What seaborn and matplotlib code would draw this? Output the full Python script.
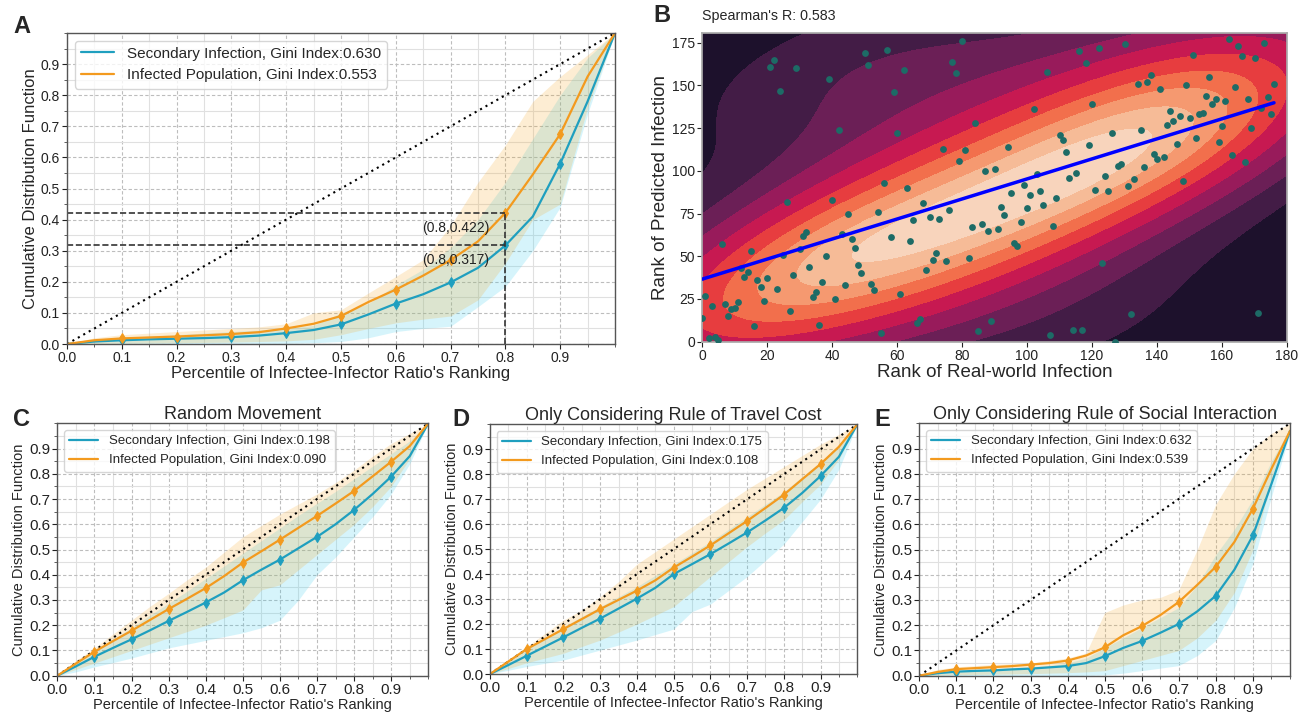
import numpy as np
import matplotlib
matplotlib.use("Agg")
import matplotlib.pyplot as plt
from matplotlib.lines import Line2D
from matplotlib.colors import ListedColormap
from matplotlib.ticker import MultipleLocator, FixedLocator
import seaborn as sns

sns.set_theme(style="white")
plt.rcParams['font.family'] = ['Liberation Sans', 'DejaVu Sans']

# ---------------------------------------------------------------- data
percentile = np.round(np.arange(0, 1.0001, 0.05), 2)

# Panel A: full model
sec_mean_A = [0, .008, .012, .015, .017, .019, .022, .027, .035, .045, .063, .095, .130, .160, .198, .245, .317, .410, .580, .780, 1.0]
sec_low_A = [0, 0, 0, 0, 0, 0, 0, .001, .002, .004, .008, .020, .040, .050, .057, .120, .185, .300, .440, .740, 1.0]
sec_up_A = [0, .015, .020, .025, .030, .035, .040, .045, .050, .060, .100, .130, .190, .240, .310, .400, .520, .660, .800, .920, 1.0]
pop_mean_A = [0, .012, .018, .021, .024, .028, .032, .038, .050, .065, .090, .135, .175, .220, .270, .330, .422, .545, .675, .860, 1.0]
pop_low_A = [0, 0, .002, .003, .004, .005, .006, .008, .010, .015, .030, .050, .068, .080, .090, .142, .260, .400, .450, .760, 1.0]
pop_up_A = [0, .020, .030, .035, .040, .045, .050, .055, .065, .100, .110, .164, .217, .271, .380, .520, .640, .780, .860, .930, 1.0]
gini_A = (0.630, 0.553)

# Panel C: random movement
sec_mean_C = [0, .037, .075, .110, .144, .180, .217, .253, .290, .330, .378, .420, .460, .505, .550, .600, .657, .720, .789, .870, 1.0]
sec_low_C = [0, .015, .035, .052, .070, .090, .110, .125, .140, .155, .170, .190, .220, .300, .400, .470, .550, .630, .720, .840, 1.0]
sec_up_C = [0, .055, .100, .145, .190, .240, .287, .335, .385, .435, .485, .535, .585, .635, .683, .730, .780, .830, .880, .930, 1.0]
pop_mean_C = [0, .048, .095, .137, .178, .221, .264, .305, .347, .395, .448, .493, .539, .586, .633, .682, .732, .790, .848, .910, 1.0]
pop_low_C = [0, .025, .050, .075, .100, .125, .150, .175, .200, .230, .260, .340, .360, .420, .480, .540, .600, .670, .750, .860, 1.0]
pop_up_C = [0, .060, .110, .165, .220, .275, .326, .380, .430, .490, .550, .595, .640, .680, .720, .765, .815, .870, .920, .960, 1.0]
gini_C = (0.198, 0.090)

# Panel D: travel cost rule only
sec_mean_D = [0, .036, .073, .110, .147, .185, .222, .262, .302, .345, .400, .440, .480, .523, .567, .615, .665, .725, .793, .870, 1.0]
sec_low_D = [0, .015, .030, .043, .056, .076, .096, .116, .136, .158, .180, .250, .280, .335, .390, .455, .520, .610, .700, .820, 1.0]
sec_up_D = [0, .050, .100, .145, .190, .230, .270, .310, .350, .395, .440, .485, .530, .580, .630, .680, .730, .790, .850, .920, 1.0]
pop_mean_D = [0, .050, .100, .140, .180, .220, .260, .297, .334, .375, .426, .470, .515, .564, .613, .665, .718, .780, .841, .910, 1.0]
pop_low_D = [0, .022, .045, .064, .083, .110, .136, .168, .200, .235, .270, .330, .390, .450, .510, .565, .617, .690, .760, .860, 1.0]
pop_up_D = [0, .058, .110, .163, .216, .256, .310, .370, .440, .490, .540, .590, .640, .690, .740, .785, .830, .875, .920, .960, 1.0]
gini_D = (0.175, 0.108)

# Panel E: social interaction rule only
sec_mean_E = [0, .010, .016, .019, .021, .025, .028, .033, .038, .050, .077, .110, .137, .170, .205, .255, .317, .420, .556, .760, .970]
sec_low_E = [0, 0, 0, 0, 0, 0, 0, 0, 0, .001, .003, .010, .020, .030, .040, .080, .140, .270, .445, .710, .960]
sec_up_E = [0, .015, .020, .025, .028, .032, .035, .040, .050, .070, .110, .150, .190, .230, .270, .360, .480, .580, .700, .850, .980]
pop_mean_E = [0, .015, .026, .030, .034, .038, .044, .050, .060, .080, .112, .160, .196, .240, .292, .360, .432, .530, .662, .820, .970]
pop_low_E = [0, .002, .004, .005, .006, .007, .008, .010, .012, .015, .020, .040, .060, .080, .100, .150, .220, .330, .500, .770, .970]
pop_up_E = [0, .025, .035, .040, .045, .048, .050, .060, .070, .090, .250, .280, .300, .310, .340, .500, .680, .800, .900, .960, 1.0]
gini_E = (0.632, 0.539)

# Panel B: rank of real-world infection vs rank of predicted infection
real_rank = [22, 21, 29, 24, 39, 42, 50, 51, 57, 62, 59, 60, 80, 77, 78, 84, 74, 81, 79, 87, 90, 56, 63,
             116, 122, 130, 118, 106, 102, 151, 162, 165, 173, 166, 170, 138, 137, 134, 141, 156, 149, 164, 176,
             155, 158, 157, 161, 168, 174, 172, 175, 120, 144, 143, 145, 147, 150, 153, 154, 160, 169, 159, 152,
             146, 163, 167, 148, 135, 126, 110, 111, 119, 112, 94, 139, 140, 142, 136, 129, 128, 115, 113, 103,
             99, 124, 133, 131, 121, 125, 95, 101, 104,
             109, 92, 100, 105, 93, 98, 108, 91, 96, 97, 123, 107, 114, 117, 127, 132, 171, 89,
             26, 40, 45, 54, 68, 70, 73, 76, 65, 58, 64, 83, 86, 88, 43, 46, 47, 48, 49, 52, 53, 61, 44, 41, 38,
             33, 37, 35, 34, 31, 32, 30, 25, 28, 23, 20, 17, 18, 19, 27, 15, 6, 14, 13, 12, 11, 10, 9, 7, 8, 3,
             1, 0, 16, 2, 4, 5, 36, 55, 66, 67, 82, 75, 71, 72, 69, 85]
pred_rank = [165, 161, 160, 147, 154, 124, 169, 162, 171, 159, 146, 122, 176, 164, 157, 128, 113, 112, 106, 100, 101, 93, 90,
             170, 172, 174, 163, 158, 136, 168, 177, 173, 175, 167, 166, 156, 152, 151, 148, 155, 150, 149, 151,
             144, 142, 139, 141, 142, 143, 137, 133, 139, 135, 127, 129, 132, 131, 133, 134, 126, 125, 117, 119,
             116, 109, 105, 94, 124, 122, 121, 118, 115, 111, 114, 110, 107, 108, 102, 104, 103, 99, 96, 98,
             92, 97, 95, 91, 89, 88, 87, 86, 88,
             84, 79, 78, 80, 74, 70, 68, 66, 58, 56, 46, 4, 7, 7, 0, 16, 17, 12,
             82, 83, 75, 76, 81, 73, 72, 77, 71, 61, 59, 67, 69, 65, 63, 60, 55, 45, 40, 34, 30, 28, 33, 25, 50,
             44, 35, 29, 26, 62, 64, 54, 51, 39, 31, 37, 36, 32, 24, 18, 53, 57, 41, 38, 43, 23, 20, 19, 22, 15, 21,
             27, 14, 9, 2, 3, 1, 10, 5, 11, 13, 49, 47, 48, 52, 42, 6]
spearman_r = 0.583

TEAL = "#1f9fbf"
ORANGE = "#f39a1e"
TEAL_BAND = "#33ccee"
ORANGE_BAND = "#f5a623"

W, H = 1311, 712
fig = plt.figure(figsize=(W / 100, H / 100), dpi=100)


def px_axes(left, top, right, bottom):
    return fig.add_axes([left / W, 1 - bottom / H, (right - left) / W, (bottom - top) / H])


def lorenz_panel(ax, sec, pop, gini, tick_fs, label_fs, legend_fs, title=None):
    sec_mean, sec_low, sec_up = sec
    pop_mean, pop_low, pop_up = pop
    ax.set_axisbelow(True)
    ax.fill_between(percentile, sec_low, sec_up, color=TEAL_BAND, alpha=0.2, lw=0)
    ax.fill_between(percentile, pop_low, pop_up, color=ORANGE_BAND, alpha=0.2, lw=0)
    sns.lineplot(x=[0, 1], y=[0, 1], color="black", linestyle=(0, (1, 2)), lw=1.5, ax=ax)
    marks = list(range(2, 19, 2))
    sns.lineplot(x=percentile, y=sec_mean, color=TEAL, lw=1.6, marker="d", markersize=5,
                 markeredgecolor=TEAL, markevery=marks, ax=ax)
    sns.lineplot(x=percentile, y=pop_mean, color=ORANGE, lw=1.6, marker="d", markersize=5,
                 markeredgecolor=ORANGE, markevery=marks, ax=ax)
    ax.set_xlim(0, 1)
    ax.set_ylim(0, 1)
    ticks = np.round(np.arange(0, 0.95, 0.1), 1)
    ax.xaxis.set_major_locator(FixedLocator(ticks))
    ax.yaxis.set_major_locator(FixedLocator(ticks))
    ax.xaxis.set_minor_locator(MultipleLocator(0.05))
    ax.yaxis.set_minor_locator(MultipleLocator(0.05))
    ax.set_xticklabels([f"{t:.1f}" for t in ticks])
    ax.set_yticklabels([f"{t:.1f}" for t in ticks])
    ax.grid(which="major", linestyle=(0, (3, 2)), color="#bdbdbd", lw=0.8)
    ax.grid(which="minor", linestyle="-", color="#e0e0e0", lw=0.8)
    ax.tick_params(which="major", direction="out", length=3.5, width=0.8, labelsize=tick_fs,
                   left=True, bottom=True, pad=1.5, colors="#222222")
    ax.tick_params(which="minor", direction="out", length=2, width=0.6, left=True, bottom=True,
                   colors="#444444")
    for sp in ax.spines.values():
        sp.set_color("#555555")
        sp.set_linewidth(1.0)
    ax.set_xlabel("Percentile of Infectee-Infector Ratio's Ranking", fontsize=label_fs, labelpad=1)
    ax.set_ylabel("Cumulative Distribution Function", fontsize=label_fs, labelpad=2)
    handles = [Line2D([], [], color=TEAL, lw=1.6), Line2D([], [], color=ORANGE, lw=1.6)]
    labels = [f"Secondary Infection, Gini Index:{gini[0]:.3f}",
              f"Infected Population, Gini Index:{gini[1]:.3f}"]
    ax.legend(handles, labels, loc="upper left", fontsize=legend_fs, frameon=True,
              framealpha=0.8, edgecolor="#cccccc", handlelength=2.2, borderaxespad=0.5)
    if title:
        ax.set_title(title, fontsize=13, pad=3)


# Panel A
axA = px_axes(67, 33, 615, 344)
lorenz_panel(axA, (sec_mean_A, sec_low_A, sec_up_A), (pop_mean_A, pop_low_A, pop_up_A), gini_A,
             tick_fs=10, label_fs=12, legend_fs=11)
x_mark = percentile[16]
for val in (pop_mean_A[16], sec_mean_A[16]):
    axA.plot([0, x_mark], [val, val], color="#333333", linestyle="--", lw=1.2)
axA.plot([x_mark, x_mark], [0, pop_mean_A[16]], color="#333333", linestyle="--", lw=1.2)
axA.text(0.709, pop_mean_A[16] - 0.048, f"({x_mark:.1f},{pop_mean_A[16]:.3f})", fontsize=10,
         ha="center", va="center", color="#222222")
axA.text(0.709, sec_mean_A[16] - 0.046, f"({x_mark:.1f},{sec_mean_A[16]:.3f})", fontsize=10,
         ha="center", va="center", color="#222222")

# Panel B
axB = px_axes(702, 32.5, 1287, 341.7)
rocket = sns.color_palette("rocket", as_cmap=True)
kde_cmap = ListedColormap(rocket(np.linspace(0.02, 0.97, 256)))
sns.kdeplot(x=real_rank, y=pred_rank, fill=True, cmap=kde_cmap, thresh=0, levels=11,
            bw_adjust=1.7, ax=axB)
sns.scatterplot(x=real_rank, y=pred_rank, color="#1d6b66", s=24, linewidth=0, ax=axB, zorder=3)
sns.regplot(x=real_rank, y=pred_rank, scatter=False, ci=None, color="#0000ff",
            line_kws=dict(lw=2.5, zorder=4), ax=axB)
axB.set_xlim(0, 180)
axB.set_ylim(0, 181)
axB.set_xticks(np.arange(0, 181, 20))
axB.set_yticks(np.arange(0, 176, 25))
axB.tick_params(direction="out", length=3.5, width=0.8, labelsize=10, left=True, bottom=True,
                pad=1.5, colors="#222222")
for sp in axB.spines.values():
    sp.set_color("#aaaaaa")
axB.set_xlabel("Rank of Real-world Infection", fontsize=13.5, labelpad=1)
axB.set_ylabel("Rank of Predicted Infection", fontsize=13.5, labelpad=2)
axB.text(0.0, 1.053, f"Spearman's R: {spearman_r:.3f}", transform=axB.transAxes,
         fontsize=10.3, ha="left", va="center")

# Panels C, D, E
axC = px_axes(57.3, 423.3, 428.3, 675.7)
lorenz_panel(axC, (sec_mean_C, sec_low_C, sec_up_C), (pop_mean_C, pop_low_C, pop_up_C), gini_C,
             tick_fs=11, label_fs=10.5, legend_fs=9.5, title="Random Movement")
axD = px_axes(490, 424.3, 857.3, 674)
lorenz_panel(axD, (sec_mean_D, sec_low_D, sec_up_D), (pop_mean_D, pop_low_D, pop_up_D), gini_D,
             tick_fs=11, label_fs=10.5, legend_fs=9.5, title="Only Considering Rule of Travel Cost")
axE = px_axes(919.3, 423.3, 1290, 675.7)
lorenz_panel(axE, (sec_mean_E, sec_low_E, sec_up_E), (pop_mean_E, pop_low_E, pop_up_E), gini_E,
             tick_fs=11, label_fs=10.5, legend_fs=9.5, title="Only Considering Rule of Social Interaction")

# Panel letters
for letter, (lx, ly) in {"A": (22, 26.5), "B": (662, 16), "C": (21.5, 420),
                         "D": (461, 419), "E": (882, 419)}.items():
    fig.text(lx / W, 1 - ly / H, letter, fontsize=17, fontweight="bold", ha="center", va="center")

fig.savefig("out.png", dpi=100)
